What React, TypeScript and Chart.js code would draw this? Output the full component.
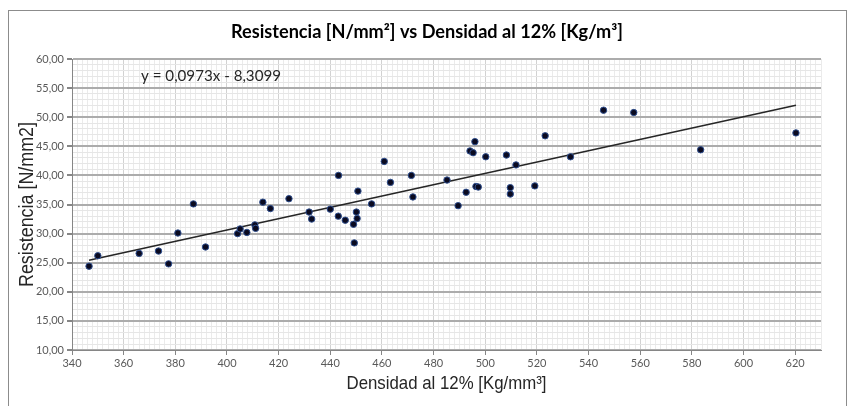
import React, { useEffect, useRef } from "react";
import { Chart, registerables } from "chart.js";

Chart.register(...registerables);

const densidad = [
  346.6, 350.0, 366.0, 373.5, 377.4, 381.0, 387.0, 391.7, 404.1, 405.1,
  407.7, 410.8, 411.1, 413.9, 416.8, 424.0, 431.8, 432.8, 440.0, 443.2,
  443.1, 445.8, 449.0, 449.3, 450.1, 450.4, 450.7, 456.0, 460.9, 463.3,
  471.4, 472.0, 485.2, 489.5, 492.6, 494.1, 495.3, 496.0, 496.4, 497.3,
  500.2, 508.2, 509.7, 509.7, 511.9, 519.2, 523.2, 533.0, 545.8, 557.5,
  583.4, 620.3,
];
const resistencia = [
  24.4, 26.2, 26.6, 27.0, 24.8, 30.1, 35.1, 27.7, 30.0, 30.8,
  30.2, 31.5, 30.9, 35.4, 34.3, 36.0, 33.7, 32.5, 34.2, 40.0,
  33.0, 32.3, 31.6, 28.4, 33.7, 32.6, 37.3, 35.1, 42.4, 38.8,
  40.0, 36.3, 39.2, 34.8, 37.1, 44.2, 43.9, 45.8, 38.1, 38.0,
  43.2, 43.5, 37.9, 36.8, 41.8, 38.2, 46.8, 43.2, 51.2, 50.8,
  44.4, 47.3,
];

const pendiente = 0.0973;
const intercepto = -8.3099;

const xMin = 340;
const xMax = 630;
const xMajor = 20;
const xMinor = 2;
const xLastLabel = 620;
const yMin = 10;
const yMax = 60;
const yMajor = 5;
const yMinor = 1;

const titulo = "Resistencia [N/mm\u00B2] vs Densidad al 12% [Kg/m\u00B3]";
const tituloX = "Densidad al 12% [Kg/mm\u00B3]";
const tituloY = "Resistencia [N/mm2]";
const ecuacion = "y = 0,0973x - 8,3099";

function range(a: number, b: number, s: number) {
  const out: { value: number }[] = [];
  for (let v = a; v <= b + 1e-9; v += s) out.push({ value: Math.round(v * 1000) / 1000 });
  return out;
}

function fitText(ctx: CanvasRenderingContext2D, text: string, x: number, y: number, w: number, font: string, color: string, rot = 0) {
  ctx.save();
  ctx.font = font;
  ctx.fillStyle = color;
  ctx.textAlign = "center";
  ctx.textBaseline = "middle";
  const m = ctx.measureText(text).width;
  ctx.translate(x, y);
  if (rot) ctx.rotate(rot);
  ctx.scale(w / m, 1);
  ctx.fillText(text, 0, 0);
  ctx.restore();
}

const decorPlugin = {
  id: "decor",
  beforeDraw(chart: any) {
    const ctx = chart.ctx as CanvasRenderingContext2D;
    ctx.save();
    ctx.fillStyle = "#ffffff";
    ctx.fillRect(0, 0, chart.width, chart.height);
    ctx.strokeStyle = "#8c8c8c";
    ctx.lineWidth = 1;
    ctx.strokeRect(8.5, 10.5, 838, 420);
    ctx.restore();
  },
  afterDraw(chart: any) {
    const ctx = chart.ctx as CanvasRenderingContext2D;
    const a = chart.chartArea;
    fitText(ctx, titulo, 427, 32, 392, "bold 18px Lato", "#000000");
    fitText(ctx, tituloX, (a.left + a.right) / 2, 384, 200, "19px 'Liberation Sans'", "#262626");
    fitText(ctx, tituloY, 27, (a.top + a.bottom) / 2, 165, "20px 'Liberation Sans'", "#262626", -Math.PI / 2);
    fitText(ctx, ecuacion, 211, 76, 140, "15px Lato", "#262626");
  },
};

export default function App() {
  const ref = useRef<HTMLCanvasElement | null>(null);
  useEffect(() => {
    if (!ref.current) return;
    const pts = densidad.map((x, i) => ({ x, y: resistencia[i] }));
    const x0 = Math.min(...densidad);
    const x1 = Math.max(...densidad);
    const trend = [
      { x: x0, y: pendiente * x0 + intercepto },
      { x: x1, y: pendiente * x1 + intercepto },
    ];
    const chart = new Chart(ref.current, {
      type: "scatter",
      data: {
        datasets: [
          {
            type: "line",
            data: trend,
            borderColor: "#262626",
            borderWidth: 1.5,
            pointRadius: 0,
            fill: false,
            order: 2,
          } as any,
          {
            data: pts,
            backgroundColor: "#0a0a20",
            borderColor: "#2f4f8f",
            borderWidth: 1,
            pointRadius: 3.2,
            order: 1,
          },
        ],
      },
      options: {
        animation: false,
        responsive: true,
        maintainAspectRatio: false,
        layout: { padding: { left: 0, right: 30, top: 59, bottom: 0 } },
        plugins: { legend: { display: false }, tooltip: { enabled: false }, title: { display: false } },
        scales: {
          x: {
            type: "linear",
            min: xMin,
            max: xMax,
            afterBuildTicks: (s: any) => { s.ticks = range(xMin, xMax, xMinor); },
            afterFit: (s: any) => { s.height = 56; },
            ticks: {
              autoSkip: false,
              maxRotation: 0,
              padding: 2,
              color: "#595959",
              font: { family: "Lato", size: 11 },
              callback: (v: any) => {
                const n = Number(v);
                return n % xMajor === 0 && n <= xLastLabel ? String(n) : "";
              },
            },
            grid: {
              drawTicks: true,
              tickLength: 5,
              color: (c: any) => (c.tick && c.tick.value % xMajor === 0 ? "#d2d2d2" : "#ebebeb"),
              tickColor: (c: any) => (c.tick && c.tick.value % xMajor === 0 && c.tick.value <= xLastLabel ? "#868686" : "rgba(0,0,0,0)"),
              lineWidth: 1,
            },
            border: { display: true, color: "#868686", width: 1 },
          },
          y: {
            type: "linear",
            min: yMin,
            max: yMax,
            afterBuildTicks: (s: any) => { s.ticks = range(yMin, yMax, yMinor); },
            afterFit: (s: any) => { s.width = 72; },
            ticks: {
              autoSkip: false,
              padding: 3,
              color: "#595959",
              font: { family: "Lato", size: 11 },
              callback: (v: any) => {
                const n = Number(v);
                return n % yMajor === 0 ? n.toFixed(2).replace(".", ",") : "";
              },
            },
            grid: {
              drawTicks: true,
              tickLength: 5,
              color: (c: any) => (c.tick && c.tick.value % yMajor === 0 ? "#acacac" : "#e6e6e6"),
              lineWidth: (c: any) => (c.tick && c.tick.value % yMajor === 0 ? 2 : 1),
              tickColor: (c: any) => (c.tick && c.tick.value % yMajor === 0 ? "#868686" : "rgba(0,0,0,0)"),
            },
            border: { display: true, color: "#868686", width: 1 },
          },
        },
      },
      plugins: [decorPlugin],
    });
    return () => chart.destroy();
  }, []);
  return (
    <div style={{ position: "absolute", left: 0, top: 0, width: 851, height: 406 }}>
      <canvas ref={ref} />
    </div>
  );
}
